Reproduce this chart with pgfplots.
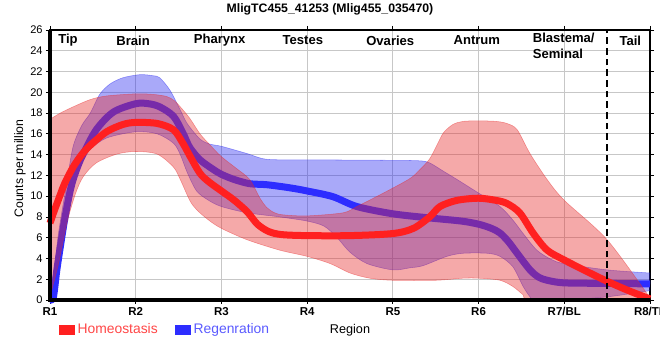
\documentclass[border=0pt]{standalone}
\usepackage{fontspec}
\setmainfont{Liberation Sans}
\usepackage{pgfplots}
\pgfplotsset{compat=1.18}
\usepackage{pgfplotstable}
\usepgfplotslibrary{fillbetween}

\definecolor{lred}{RGB}{255,32,32}
\definecolor{lblue}{RGB}{45,45,255}
\definecolor{bandred}{RGB}{230,40,40}
\definecolor{bandblue}{RGB}{30,30,240}
\definecolor{legredtext}{RGB}{255,70,70}
\definecolor{legbluetext}{RGB}{90,90,255}

\pgfplotstableread{
x y
0 7.4
0.05 8.6
0.1 9.7
0.17 11.2
0.27 12.8
0.37 14.0
0.47 14.9
0.66 16.2
0.85 16.9
1.0 17.1
1.25 17.0
1.44 16.4
1.55 15.1
1.63 13.9
1.75 12.2
1.85 11.4
2.0 10.5
2.15 9.6
2.3 8.5
2.42 7.3
2.55 6.6
2.7 6.3
3.0 6.2
3.5 6.2
4.0 6.4
4.24 6.9
4.43 8.0
4.55 9.0
4.75 9.6
5.0 9.8
5.2 9.6
5.33 9.3
5.48 8.4
5.64 6.4
5.8 4.8
6.0 3.85
6.25 2.8
6.5 1.8
6.75 0.9
7.0 0.1
}\tabRedLine

\pgfplotstableread{
x y
0 0
0.04 0.3
0.08 2.9
0.12 5.1
0.17 7.7
0.23 10.3
0.27 11.6
0.33 13.0
0.39 14.1
0.54 16.4
0.74 18.1
1.0 18.9
1.15 18.9
1.28 18.6
1.44 17.7
1.55 16.1
1.63 14.7
1.75 13.5
1.9 12.6
2.0 12.1
2.15 11.6
2.33 11.2
2.53 11.1
2.8 10.8
3.0 10.5
3.3 9.95
3.58 9.0
4.0 8.3
4.43 7.9
4.8 7.6
5.0 7.3
5.15 6.9
5.25 6.45
5.35 5.6
5.45 4.5
5.6 2.9
5.7 2.2
5.8 1.9
6.0 1.65
6.5 1.6
7.0 1.55
}\tabBlueLine

\pgfplotstableread{
x y
0 17.4
0.12 18.0
0.27 18.6
0.47 19.3
0.66 19.65
1.0 19.85
1.2 19.8
1.36 19.6
1.45 19.2
1.52 18.6
1.63 17.5
1.75 16.0
1.87 14.9
2.0 13.8
2.17 12.7
2.33 11.6
2.45 9.8
2.53 8.9
2.62 8.4
2.72 8.2
3.0 8.1
3.42 8.4
3.58 9.0
3.89 10.3
4.2 11.7
4.32 12.6
4.43 13.6
4.52 15.0
4.59 16.1
4.7 16.9
4.82 17.2
5.0 17.25
5.2 17.2
5.33 17.0
5.45 16.4
5.6 14.1
5.8 11.6
6.0 9.6
6.5 5.8
7.0 0.2
}\tabRedUp

\pgfplotstableread{
x y
0 0.3
0.1 3.5
0.2 7.5
0.3 10.3
0.39 11.9
0.54 13.2
0.78 14.05
1.0 14.3
1.25 14.05
1.44 12.8
1.52 11.6
1.63 9.6
1.71 8.7
1.85 7.7
2.0 6.9
2.3 5.8
2.68 4.8
3.0 4.2
3.27 3.5
3.5 2.6
3.73 2.1
4.0 1.9
4.5 1.9
4.82 2.1
5.0 2.1
5.25 1.9
5.4 1.3
5.52 0.5
5.6 0
6.3 0
7.0 0
}\tabRedLo

\pgfplotstableread{
x y
0 1.0
0.05 3.0
0.1 6.5
0.2 11.5
0.27 14.8
0.37 16.8
0.47 18.0
0.58 19.8
0.7 20.8
0.85 21.4
1.05 21.7
1.2 21.6
1.28 21.4
1.4 20.2
1.52 18.3
1.6 17.0
1.75 15.5
1.87 15.0
2.0 14.8
2.3 14.1
2.53 13.55
3.0 13.5
4.0 13.45
4.32 13.4
4.43 13.2
4.59 12.4
4.75 11.6
5.0 10.3
5.25 9.0
5.4 7.7
5.52 6.4
5.68 4.8
5.85 3.9
6.0 3.5
6.5 2.9
7.0 2.6
}\tabBlueUp

\pgfplotstableread{
x y
0 0
0.05 0.5
0.12 4.0
0.2 8.0
0.27 11.0
0.37 13.3
0.47 14.5
0.66 15.6
1.0 16.2
1.25 16.0
1.44 15.1
1.52 14.0
1.6 12.3
1.71 10.5
1.85 9.6
2.0 9.0
2.3 8.4
2.68 8.0
3.0 7.6
3.2 7.1
3.35 6.0
3.5 4.6
3.7 3.5
4.0 2.9
4.2 3.1
4.35 3.3
4.63 4.2
4.82 4.5
5.1 4.5
5.25 4.2
5.4 3.2
5.52 1.3
5.6 0.3
5.65 0
6.0 0
6.5 0.3
7.0 0.9
}\tabBlueLo

\begin{document}
\begin{tikzpicture}
\begin{axis}[
  set layers,
  at={(0,0)}, anchor=south west,
  scale only axis, width=450pt, height=202.5pt,
  xmin=0, xmax=7, ymin=0, ymax=26,
  xtick={0,1,2,3,4,5,6,7},
  xticklabels={R1,R2,R3,R4,R5,R6,R7/BL,R8/TL},
  ytick={0,2,...,26},
  grid=major,
  grid style={color=black!22, line width=0.6pt},
  tick align=outside,
  major tick length=3pt,
  tick style={black, line width=0.6pt},
  axis line style={black, line width=0.8pt},
  /pgf/number format/assume math mode=true,
  xticklabel style={font=\bfseries\fontsize{8.6}{10}\selectfont, yshift=1pt},
  yticklabel style={font=\fontsize{8.3}{10}\selectfont, xshift=1pt},
  xlabel={Region},
  xlabel style={at={(axis description cs:0.5,-0.111)}, anchor=center, font=\fontsize{9.5}{11}\selectfont},
  ylabel={Counts per million},
  ylabel style={at={(axis description cs:-0.05,0.487)}, anchor=center, font=\fontsize{9.2}{11}\selectfont},
  legend style={at={(axis description cs:0.008,-0.111)}, anchor=west, draw=none, fill=none,
    legend columns=2, font=\fontsize{10.4}{12}\selectfont,
    /tikz/every even column/.append style={column sep=11pt}},
  legend cell align=left,
]
% Regeneration band
\addplot[on layer=pre main, bandblue, draw opacity=0.45, line width=0.4pt, smooth, name path=bup, forget plot] table {\tabBlueUp};
\addplot[on layer=pre main, bandblue, draw opacity=0.45, line width=0.4pt, smooth, name path=blo, forget plot] table {\tabBlueLo};
\addplot[fill=bandblue, fill opacity=0.38, draw=none, forget plot] fill between[of=bup and blo];
% Regeneration line
\addplot[on layer=pre main, lblue, line width=5.25pt, smooth, line join=round, forget plot] table {\tabBlueLine};
% Homeostasis band
\addplot[on layer=pre main, bandred, draw opacity=0.45, line width=0.4pt, smooth, name path=rup, forget plot] table {\tabRedUp};
\addplot[on layer=pre main, bandred, draw opacity=0.45, line width=0.4pt, smooth, name path=rlo, forget plot] table {\tabRedLo};
\addplot[fill=bandred, fill opacity=0.4, draw=none, forget plot] fill between[of=rup and rlo];
% Homeostasis line
\addplot[on layer=pre main, lred, line width=5.25pt, smooth, line join=round, forget plot] table {\tabRedLine};

\draw[black, line width=1.9pt, dash pattern=on 5pt off 3pt] (axis cs:6.5,0) -- (axis cs:6.5,26);

\addlegendimage{legend image code/.code={\fill[lred] (0pt,-3.6pt) rectangle (11.5pt,3.6pt);}}
\addlegendentry{\textcolor{legredtext}{Homeostasis}}
\addlegendimage{legend image code/.code={\fill[lblue] (0pt,-3.6pt) rectangle (11.5pt,3.6pt);}}
\addlegendentry{\textcolor{legbluetext}{Regenration}}

\begin{scope}[font=\bfseries\fontsize{9.8}{11.5}\selectfont]
\node at (axis cs:0.21,25.0) {Tip};
\node at (axis cs:0.97,25.0) {Brain};
\node at (axis cs:1.98,25.0) {Pharynx};
\node at (axis cs:2.95,25.0) {Testes};
\node at (axis cs:3.97,25.0) {Ovaries};
\node at (axis cs:4.98,25.0) {Antrum};
\node[anchor=north west, align=left, inner sep=0pt] at (axis cs:5.63,25.7) {Blastema/\\Seminal};
\node at (axis cs:6.77,25.0) {Tail};
\end{scope}
\end{axis}
\draw[black, line width=2.3pt] (0,202.5pt) -- (0,0) -- (450pt,0);
\node[font=\bfseries\fontsize{9.2}{11}\selectfont] at (210pt,218pt) {MligTC455\_41253 (Mlig455\_035470)};
\pgfresetboundingbox
\path[use as bounding box] (-37.5pt,-45pt) rectangle (457.5pt,225pt);
\end{tikzpicture}
\end{document}
